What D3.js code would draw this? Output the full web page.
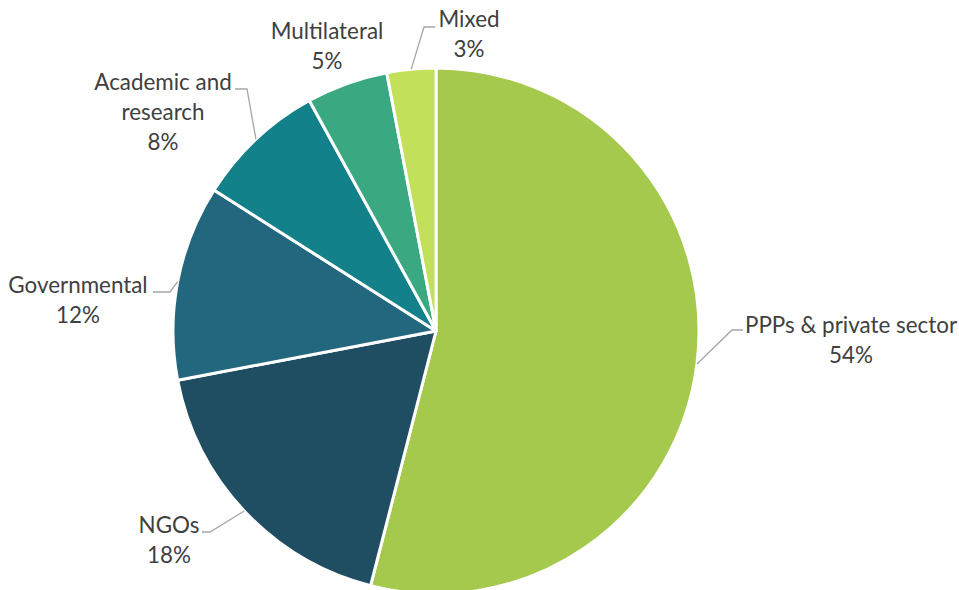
<!DOCTYPE html>
<html>
<head>
<meta charset="utf-8">
<script src="https://cdn.jsdelivr.net/npm/d3@7"></script>
<style>
  html, body { margin: 0; padding: 0; background: #fff; }
  svg { display: block; }
  text { font-family: Lato, "Open Sans", sans-serif; fill: #404040; }
</style>
</head>
<body>
<svg id="chart" width="959" height="590"></svg>
<script>
// Share of partners by sector (%)
const categories = ["PPPs & private sector", "NGOs", "Governmental", "Academic and research", "Multilateral", "Mixed"];
const values = [54, 18, 12, 8, 5, 3];
const colors = ["#a5c94c", "#1f4d61", "#23677f", "#13818a", "#3aa981", "#c2e05a"];

// Label text lines (category name may wrap) and label placement
const labelLines = [["PPPs & private sector"], ["NGOs"], ["Governmental"], ["Academic and", "research"], ["Multilateral"], ["Mixed"]];
const labelPos = [[851, 324], [169, 524], [78, 284], [163, 81], [327, 30], [469, 18]];
// elbow of each leader line: [x, y] where it bends, and its horizontal end x (null = no leader)
const leaderElbow = [[732, 330, 743], [210, 532, 202], [170, 292, 153], [247, 89, 235], null, [424, 27, 435]];

const width = 959, height = 590;
const cx = 436, cy = 331, radius = 263;
const lineH = 30;

const svg = d3.select("#chart");
const g = svg.append("g").attr("transform", `translate(${cx},${cy})`);

const data = categories.map((c, i) => ({ name: c, value: values[i], color: colors[i], i }));

const pie = d3.pie().value(d => d.value).sort(null);
const arc = d3.arc().innerRadius(0).outerRadius(radius);
const arcs = pie(data);

g.selectAll("path.slice")
  .data(arcs)
  .join("path")
  .attr("class", "slice")
  .attr("d", arc)
  .attr("fill", d => d.data.color)
  .attr("stroke", "#fff")
  .attr("stroke-width", 3)
  .attr("stroke-linejoin", "round");

// Leader lines from the slice edge at its mid angle
arcs.forEach(a => {
  const el = leaderElbow[a.data.i];
  if (!el) return;
  const mid = (a.startAngle + a.endAngle) / 2;
  const sx = cx + radius * Math.sin(mid);
  const sy = cy - radius * Math.cos(mid);
  svg.append("polyline")
    .attr("points", `${sx},${sy} ${el[0]},${el[1]} ${el[2]},${el[1]}`)
    .attr("fill", "none")
    .attr("stroke", "#a6a6a6")
    .attr("stroke-width", 1.3);
});

// Labels: category name plus percentage
arcs.forEach(a => {
  const i = a.data.i;
  const [lx, ly] = labelPos[i];
  const lines = labelLines[i].concat([d3.format(".0f")(a.data.value) + "%"]);
  const t = svg.append("text")
    .attr("x", lx)
    .attr("y", ly)
    .attr("text-anchor", "middle")
    .attr("dominant-baseline", "central")
    .style("font-size", "22.4px");
  lines.forEach((s, k) => {
    t.append("tspan").attr("x", lx).attr("y", ly + k * lineH).text(s);
  });
});
</script>
</body>
</html>
